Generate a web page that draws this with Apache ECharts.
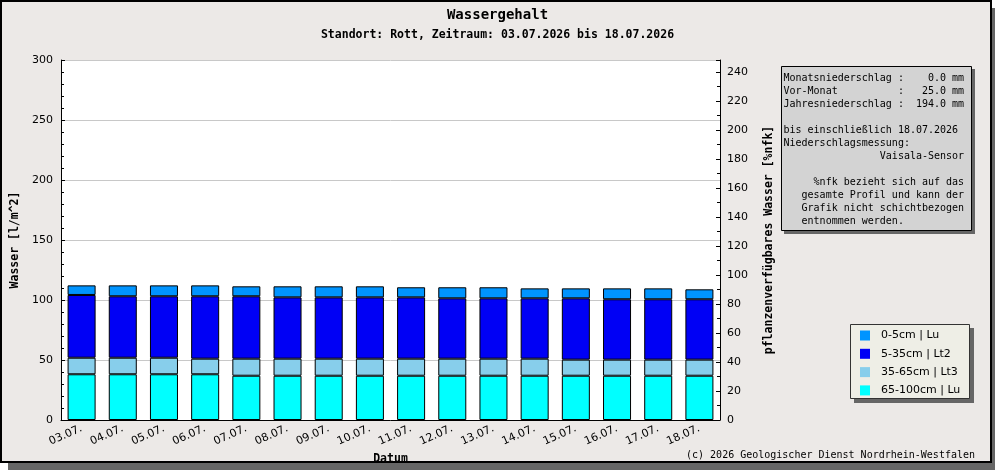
<!DOCTYPE html>
<html>
<head>
<meta charset="utf-8">
<script src="https://cdn.jsdelivr.net/npm/echarts@6/dist/echarts.min.js"></script>
<style>
html,body{margin:0;padding:0;background:#fff;}
#c{width:995px;height:470px;}
</style>
</head>
<body>
<div id="c"></div>
<script>
const categories = ['03.07.','04.07.','05.07.','06.07.','07.07.','08.07.','09.07.','10.07.','11.07.','12.07.','13.07.','14.07.','15.07.','16.07.','17.07.','18.07.'];
const layer65_100 = [38.1,38.1,38.1,38.1,36.9,36.9,36.9,36.9,36.9,36.9,36.9,36.9,36.9,36.9,36.9,36.9];
const layer35_65  = [13.8,13.8,13.8,13.0,14.2,14.2,14.2,14.2,14.2,14.2,14.2,14.2,13.4,13.4,13.4,13.4];
const layer5_35   = [52.3,51.2,51.2,52.0,52.0,51.1,51.1,51.1,51.1,50.3,50.3,50.3,51.1,50.3,50.3,50.3];
const layer0_5    = [8.0,9.1,9.1,9.1,8.3,9.2,9.2,9.2,8.4,9.2,9.2,8.3,8.3,9.1,9.1,8.3];
const seriesNames = ['0-5cm | Lu','5-35cm | Lt2','35-65cm | Lt3','65-100cm | Lu'];
const infoLines = [
'Monatsniederschlag :    0.0 mm',
'Vor-Monat          :   25.0 mm',
'Jahresniederschlag :  194.0 mm',
'',
'bis einschließlich 18.07.2026',
'Niederschlagsmessung:',
'                Vaisala-Sensor',
'',
'     %nfk bezieht sich auf das',
'   gesamte Profil und kann der',
'   Grafik nicht schichtbezogen',
'   entnommen werden.'
];

const chart = echarts.init(document.getElementById('c'), null, {renderer:'canvas'});
const mono = '"DejaVu Sans Mono", monospace';
const sans = '"DejaVu Sans", sans-serif';
const barStyle = (c) => ({color:c, borderColor:'#000', borderWidth:1});

chart.setOption({
  animation:false,
  backgroundColor:'transparent',
  title:[
    {text:'Wassergehalt', left:'center', top:3, textStyle:{fontFamily:mono, fontWeight:'bold', fontSize:14, color:'#000'}},
    {text:'Standort: Rott, Zeitraum: 03.07.2026 bis 18.07.2026', left:'center', top:24, textStyle:{fontFamily:mono, fontWeight:'bold', fontSize:11.5, color:'#000'}}
  ],
  grid:{left:61, right:275, top:60, bottom:50, show:true, backgroundColor:'#fff', borderWidth:0, outerBoundsMode:'none', containLabel:false},
  legend:{
    orient:'vertical', left:860, top:330, itemWidth:10, itemHeight:10, itemGap:7.3, padding:0,
    data:seriesNames, icon:'rect',
    itemStyle:{borderWidth:0},
    textStyle:{fontFamily:sans, fontSize:11, color:'#000', lineHeight:10, padding:[0,0,0,6]},
    selectedMode:false
  },
  xAxis:{
    type:'category', data:categories, boundaryGap:true,
    axisLine:{lineStyle:{color:'#000', width:1}},
    axisTick:{inside:true, length:4, lineStyle:{color:'#000'}},
    axisLabel:{interval:0, rotate:24, margin:8, fontFamily:sans, fontSize:11, color:'#000'},
    name:'Datum', nameLocation:'middle', nameGap:31,
    nameTextStyle:{fontFamily:mono, fontWeight:'bold', fontSize:11.5, color:'#000'}
  },
  yAxis:[
    {
      type:'value', min:0, max:300, interval:50, position:'left',
      axisLine:{show:true, lineStyle:{color:'#000'}},
      axisTick:{show:true, inside:true, length:4, lineStyle:{color:'#000'}},
      minorTick:{show:true, splitNumber:5, length:3, lineStyle:{color:'#000'}},
      splitLine:{show:true, lineStyle:{color:'#c8c8c8', width:1}},
      axisLabel:{margin:8, fontFamily:sans, fontSize:11, color:'#000'},
      name:'Wasser [l/m^2]', nameLocation:'middle', nameGap:35, nameRotate:90,
      nameTextStyle:{fontFamily:mono, fontWeight:'bold', fontSize:11.5, color:'#000'}
    },
    {
      type:'value', min:0, max:248.3, interval:20, position:'right',
      axisLine:{show:true, lineStyle:{color:'#000'}},
      axisTick:{show:true, inside:true, length:4, lineStyle:{color:'#000'}},
      minorTick:{show:true, splitNumber:2, length:3, lineStyle:{color:'#000'}},
      splitLine:{show:false},
      axisLabel:{margin:7, fontFamily:sans, fontSize:11, color:'#000', showMaxLabel:false,
        formatter:(v)=> (Math.abs(v % 20) < 1e-6 ? String(v) : '')},
      name:'pflanzenverfügbares Wasser [%nfk]', nameLocation:'middle', nameGap:43, nameRotate:90,
      nameTextStyle:{fontFamily:mono, fontWeight:'bold', fontSize:11.5, color:'#000'}
    }
  ],
  series:[
    {name:seriesNames[3], type:'bar', stack:'w', data:layer65_100, barWidth:'68%', itemStyle:barStyle('#00ffff')},
    {name:seriesNames[2], type:'bar', stack:'w', data:layer35_65, barWidth:'68%', itemStyle:barStyle('#87ceeb')},
    {name:seriesNames[1], type:'bar', stack:'w', data:layer5_35, barWidth:'68%', itemStyle:barStyle('#0000f5')},
    {name:seriesNames[0], type:'bar', stack:'w', data:layer0_5, barWidth:'68%', itemStyle:barStyle('#0094ff')}
  ],
  graphic:[
    {type:'rect', z:-20, silent:true, shape:{x:8, y:8, width:987, height:462}, style:{fill:'#666666'}},
    {type:'rect', z:-19, silent:true, shape:{x:1, y:1, width:990, height:461}, style:{fill:'#ece9e7', stroke:'#000', lineWidth:2}},
    // info box
    {type:'rect', z:3, silent:true, shape:{x:784, y:69, width:191, height:165}, style:{fill:'#666666'}},
    {type:'rect', z:3, silent:true, shape:{x:781.5, y:66.5, width:190, height:164}, style:{fill:'#d3d3d3', stroke:'#000', lineWidth:1}},
    {type:'text', z:4, silent:true, style:{x:783.5, y:72, text:infoLines.join('\n'), font:'10px "DejaVu Sans Mono", monospace', lineHeight:13, fill:'#000', verticalAlign:'top', align:'left'}},
    // legend box
    {type:'rect', z:2, silent:true, shape:{x:854, y:328, width:120, height:75}, style:{fill:'#666666'}},
    {type:'rect', z:2, silent:true, shape:{x:850.5, y:324.5, width:119, height:74}, style:{fill:'#eeeee6', stroke:'#333', lineWidth:1}},
    // copyright
    {type:'text', z:4, silent:true, style:{x:975, y:455, text:'(c) 2026 Geologischer Dienst Nordrhein-Westfalen', font:'10px "DejaVu Sans Mono", monospace', fill:'#000', align:'right', verticalAlign:'middle'}}
  ]
});
</script>
</body>
</html>
